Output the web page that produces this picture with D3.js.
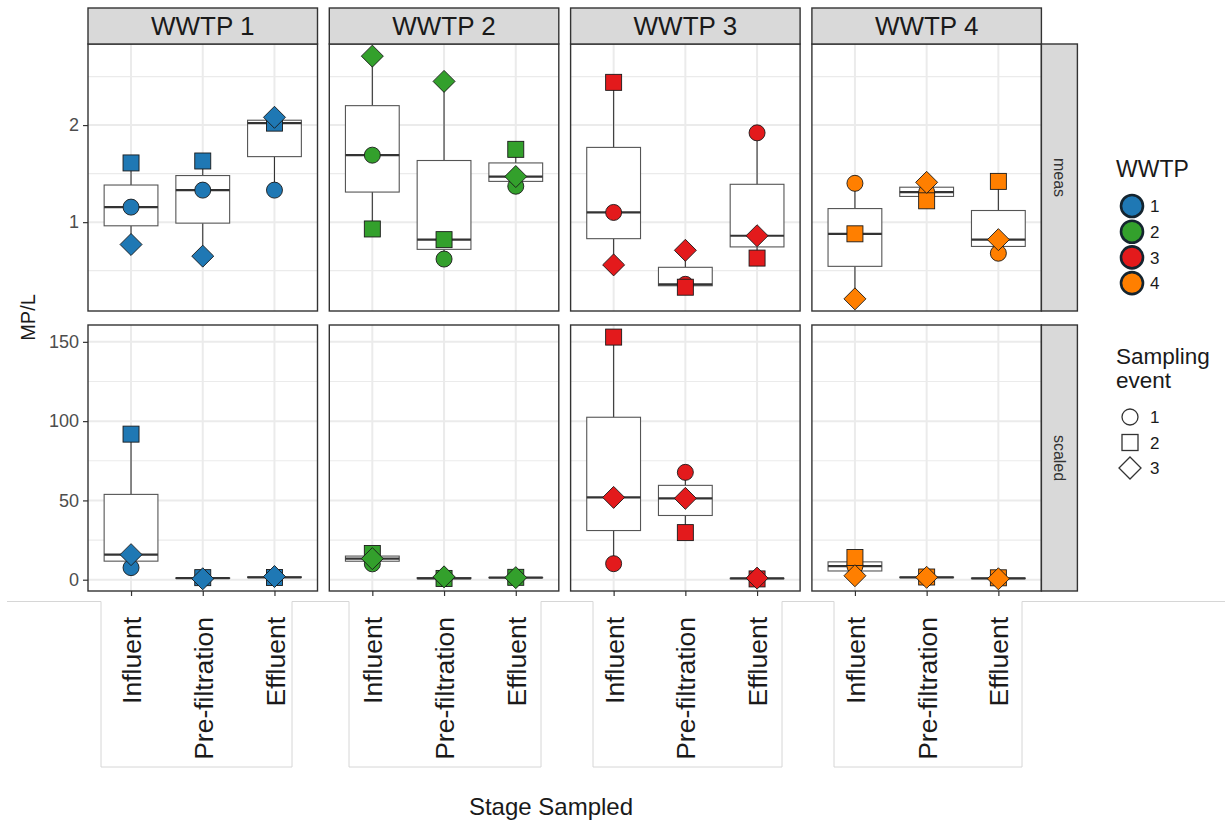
<!DOCTYPE html>
<html>
<head>
<meta charset="utf-8">
<script src="https://cdn.jsdelivr.net/npm/d3@7"></script>
<style>
  body { margin: 0; background: #fff; }
  svg { font-family: "Liberation Sans", Arial, sans-serif; }
</style>
</head>
<body>
<script>
const stages = ["Influent", "Pre-filtration", "Effluent"];
const plants = ["WWTP 1", "WWTP 2", "WWTP 3", "WWTP 4"];
const plantKeys = ["1", "2", "3", "4"];
const plantColors = ["#1f78b4", "#33a02c", "#e31a1c", "#ff7f00"];
const eventKeys = ["1", "2", "3"];
const eventShapes = ["circle", "square", "diamond"];
const rowNames = ["meas", "scaled"];
const measTicks = [1, 2];
const scaledTicks = [0, 50, 100, 150];

// MP/L, one row per stage, values for sampling events 1, 2, 3
const meas1 = [[1.155, 1.61, 0.77], [1.33, 1.63, 0.65], [1.33, 2.02, 2.08]];
const meas2 = [[1.69, 0.93, 2.71], [0.62, 0.82, 2.45], [1.37, 1.75, 1.47]];
const meas3 = [[1.10, 2.44, 0.56], [0.36, 0.33, 0.71], [1.92, 0.63, 0.86]];
const meas4 = [[1.40, 0.88, 0.21], [1.31, 1.22, 1.41], [0.68, 1.42, 0.82]];
const scaled1 = [[7.6, 91.8, 15.8], [1.0, 1.3, 0.6], [1.5, 1.4, 2.0]];
const scaled2 = [[10.0, 16.5, 13.3], [0.6, 0.8, 1.8], [1.2, 1.5, 1.3]];
const scaled3 = [[10.1, 153, 51.9], [67.7, 29.7, 51.3], [0.8, 0.5, 1.0]];
const scaled4 = [[8.5, 14.0, 2.5], [1.2, 1.7, 1.5], [0.8, 1.2, 0.6]];

const rowData = [[meas1, meas2, meas3, meas4], [scaled1, scaled2, scaled3, scaled4]];
const rowTicks = [measTicks, scaledTicks];

// layout
const W = 1225, H = 822;
const panelLeft = 88, panelW = 229.5, panelStep = 241.3;
const rowTop = [44, 325], rowH = [267, 266];
const stripTop = 8, stripH = 36;
const rStripX = panelLeft + 3 * panelStep + panelW, rStripW = 36;
const ink = "#333333";

const svg = d3.select("body").append("svg")
  .attr("width", W).attr("height", H);

function expand(ext) {
  const d = (ext[1] - ext[0]) * 0.05;
  return [ext[0] - d, ext[1] + d];
}

function minorTicks(major, dom) {
  const step = major[1] - major[0];
  const out = [];
  for (let v = major[0] - step / 2; v <= dom[1]; v += step) {
    if (v >= dom[0]) out.push(v);
  }
  return out;
}

function drawShape(g, shape, cx, cy, fill, stroke, sw) {
  if (shape === "circle") {
    g.append("circle").attr("cx", cx).attr("cy", cy).attr("r", 8)
      .attr("fill", fill).attr("stroke", stroke).attr("stroke-width", sw);
  } else if (shape === "square") {
    g.append("rect").attr("x", cx - 8).attr("y", cy - 8)
      .attr("width", 16).attr("height", 16)
      .attr("fill", fill).attr("stroke", stroke).attr("stroke-width", sw);
  } else {
    const d = 11;
    g.append("path")
      .attr("d", `M${cx},${cy - d}L${cx + d},${cy}L${cx},${cy + d}L${cx - d},${cy}Z`)
      .attr("fill", fill).attr("stroke", stroke).attr("stroke-width", sw);
  }
}

// stray label frame from the source image (light grey tabs below the plot)
const frameTop = 601.5, frameBottom = 767;
const frames = [[101, 292], [349, 541], [593, 782], [834, 1022]];
let framePath = `M7,${frameTop}`;
frames.forEach(([a, b]) => {
  framePath += `H${a}V${frameBottom}H${b}V${frameTop}`;
});
framePath += `H${W}`;
svg.append("path").attr("d", framePath)
  .attr("fill", "none").attr("stroke", "#d6d6d6").attr("stroke-width", 1);

rowNames.forEach((rowName, r) => {
  const top = rowTop[r], h = rowH[r];
  const all = rowData[r].flat(2);
  const dom = expand(d3.extent(all));
  const y = d3.scaleLinear().domain(dom).range([top + h, top]);
  const ticks = rowTicks[r];
  const minors = minorTicks(ticks, dom);

  plants.forEach((plant, c) => {
    const px = panelLeft + c * panelStep;
    const x = d3.scalePoint().domain(stages).range([px, px + panelW]).padding(0.6);
    const g = svg.append("g");

    g.append("rect").attr("x", px).attr("y", top).attr("width", panelW).attr("height", h)
      .attr("fill", "#fff");

    // grid
    g.selectAll(".minor").data(minors).join("line")
      .attr("x1", px).attr("x2", px + panelW)
      .attr("y1", d => y(d)).attr("y2", d => y(d))
      .attr("stroke", "#ebebeb").attr("stroke-width", 1.2);
    g.selectAll(".major").data(ticks).join("line")
      .attr("x1", px).attr("x2", px + panelW)
      .attr("y1", d => y(d)).attr("y2", d => y(d))
      .attr("stroke", "#ebebeb").attr("stroke-width", 2);
    g.selectAll(".vgrid").data(stages).join("line")
      .attr("x1", d => x(d)).attr("x2", d => x(d))
      .attr("y1", top).attr("y2", top + h)
      .attr("stroke", "#ebebeb").attr("stroke-width", 2);

    const half = x.step() * 0.375;
    const vals = rowData[r][c];

    // boxplots
    stages.forEach((s, i) => {
      const v = vals[i].slice().sort(d3.ascending);
      const q1 = d3.quantile(v, 0.25), med = d3.quantile(v, 0.5), q3 = d3.quantile(v, 0.75);
      const iqr = q3 - q1;
      const lo = d3.min(v.filter(d => d >= q1 - 1.5 * iqr));
      const hi = d3.max(v.filter(d => d <= q3 + 1.5 * iqr));
      const cx = x(s);
      g.append("line").attr("x1", cx).attr("x2", cx).attr("y1", y(q3)).attr("y2", y(hi))
        .attr("stroke", ink).attr("stroke-width", 1.1);
      g.append("line").attr("x1", cx).attr("x2", cx).attr("y1", y(q1)).attr("y2", y(lo))
        .attr("stroke", ink).attr("stroke-width", 1.1);
      g.append("rect").attr("x", cx - half).attr("y", y(q3))
        .attr("width", half * 2).attr("height", Math.max(0, y(q1) - y(q3)))
        .attr("fill", "#fff").attr("stroke", "#555").attr("stroke-width", 1.1);
      g.append("line").attr("x1", cx - half).attr("x2", cx + half)
        .attr("y1", y(med)).attr("y2", y(med))
        .attr("stroke", ink).attr("stroke-width", 2.2);
    });

    // points
    stages.forEach((s, i) => {
      vals[i].forEach((v, e) => {
        drawShape(g, eventShapes[e], x(s), y(v), plantColors[c], "#1a1a1a", 0.9);
      });
    });

    g.append("rect").attr("x", px).attr("y", top).attr("width", panelW).attr("height", h)
      .attr("fill", "none").attr("stroke", ink).attr("stroke-width", 1.4);

    // column strips on top
    if (r === 0) {
      svg.append("rect").attr("x", px).attr("y", stripTop).attr("width", panelW).attr("height", stripH)
        .attr("fill", "#d9d9d9").attr("stroke", ink).attr("stroke-width", 1.4);
      svg.append("text").attr("x", px + panelW / 2).attr("y", stripTop + stripH / 2)
        .attr("dy", "0.36em").attr("text-anchor", "middle")
        .attr("font-size", 26).attr("fill", "#1a1a1a").text(plant);
    }

    // y axis on the left column
    if (c === 0) {
      const ax = svg.append("g").attr("transform", `translate(${px},0)`)
        .call(d3.axisLeft(y).tickValues(ticks).tickSize(5).tickPadding(4).tickFormat(d3.format("d")));
      ax.select(".domain").remove();
      ax.selectAll("line").attr("stroke", ink).attr("stroke-width", 1.2);
      ax.selectAll("text").attr("font-size", 18).attr("fill", "#4d4d4d")
        .attr("font-family", "Liberation Sans, Arial, sans-serif");
    }

    // x axis on the bottom row
    if (r === 1) {
      const ax = svg.append("g").attr("transform", `translate(0,${top + h})`)
        .call(d3.axisBottom(x).tickSize(5));
      ax.select(".domain").remove();
      ax.selectAll("line").attr("stroke", ink).attr("stroke-width", 1.2);
      ax.selectAll("text")
        .attr("transform", "rotate(-90)")
        .attr("x", -26).attr("y", 0).attr("dy", "0.36em")
        .attr("text-anchor", "end")
        .attr("font-size", 26.5).attr("fill", "#1a1a1a")
        .attr("font-family", "Liberation Sans, Arial, sans-serif");
    }
  });

  // row strip on the right
  svg.append("rect").attr("x", rStripX).attr("y", top).attr("width", rStripW).attr("height", h)
    .attr("fill", "#d9d9d9").attr("stroke", ink).attr("stroke-width", 1.4);
  svg.append("text")
    .attr("transform", `translate(${rStripX + rStripW / 2},${top + h / 2}) rotate(90)`)
    .attr("dy", "0.36em").attr("text-anchor", "middle")
    .attr("font-size", 16).attr("fill", "#333").text(rowName);
});

// axis titles
svg.append("text")
  .attr("transform", `translate(28,${(rowTop[0] + rowTop[1] + rowH[1]) / 2}) rotate(-90)`)
  .attr("dy", "0.36em").attr("text-anchor", "middle")
  .attr("font-size", 20).attr("fill", "#1a1a1a").text("MP/L");
svg.append("text").attr("x", 551).attr("y", 815)
  .attr("text-anchor", "middle").attr("font-size", 24).attr("fill", "#1a1a1a")
  .text("Stage Sampled");

// legends
const legX = 1116;
svg.append("text").attr("x", legX).attr("y", 177).attr("font-size", 23)
  .attr("fill", "#1a1a1a").text("WWTP");
plantKeys.forEach((k, i) => {
  const cy = 206 + i * 25.7;
  svg.append("circle").attr("cx", 1132).attr("cy", cy).attr("r", 11)
    .attr("fill", plantColors[i]).attr("stroke", "#14242f").attr("stroke-width", 2.6);
  svg.append("text").attr("x", 1150).attr("y", cy).attr("dy", "0.36em")
    .attr("font-size", 17).attr("fill", "#1a1a1a").text(k);
});

svg.append("text").attr("x", legX).attr("y", 364).attr("font-size", 22.5)
  .attr("fill", "#1a1a1a").text("Sampling");
svg.append("text").attr("x", legX).attr("y", 388).attr("font-size", 22.5)
  .attr("fill", "#1a1a1a").text("event");
eventKeys.forEach((k, i) => {
  const cy = 417 + i * 25.5;
  const lg = svg.append("g");
  drawShape(lg, eventShapes[i], 1130, cy, "#fff", "#333", 1.3);
  svg.append("text").attr("x", 1150).attr("y", cy).attr("dy", "0.36em")
    .attr("font-size", 17).attr("fill", "#1a1a1a").text(k);
});
</script>
</body>
</html>
